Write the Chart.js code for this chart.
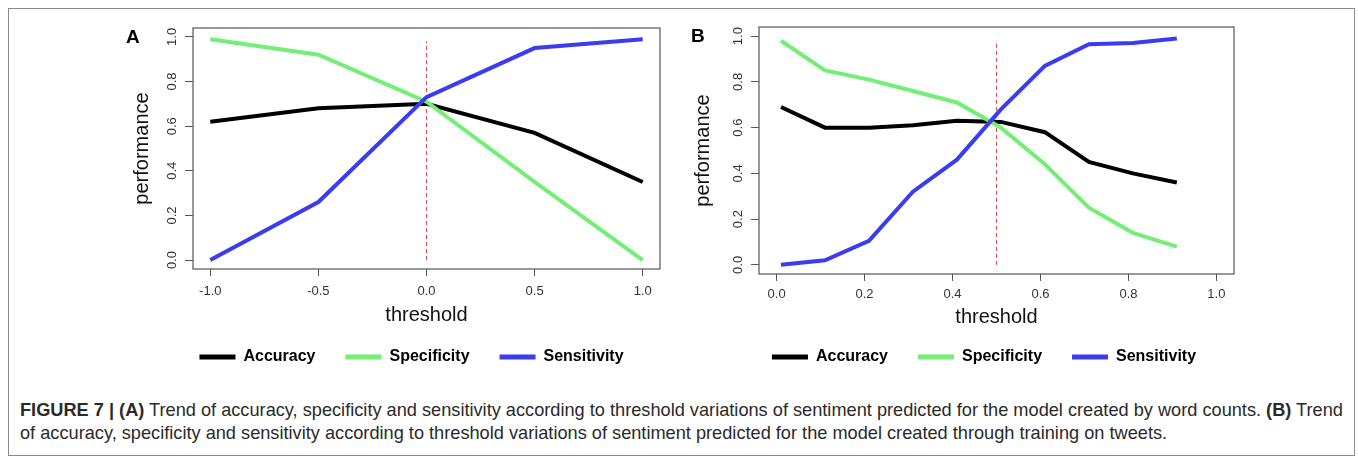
<!DOCTYPE html>
<html>
<head>
<meta charset="utf-8">
<script src="https://cdn.jsdelivr.net/npm/chart.js@4.4.1/dist/chart.umd.min.js"></script>
<style>
  html, body { margin: 0; padding: 0; background: #fff; }
  body { width: 1358px; height: 457px; position: relative; overflow: hidden; font-family: "Liberation Sans", Arial, sans-serif; }
  #frame { position: absolute; left: 8px; top: 8px; width: 1347px; height: 448px; border: 1.5px solid #8a8a8a; box-sizing: border-box; }
  .panel { position: absolute; top: 0; }
  .tag { position: absolute; font-weight: bold; font-size: 19px; line-height: 22px; color: #000; }
  #caption { position: absolute; left: 20px; top: 399px; font-size: 18.2px; line-height: 23px; color: #2a2a2a; white-space: nowrap; }
</style>
</head>
<body>
<div id="frame"></div>
<canvas id="chartA" class="panel" style="left:0px" width="823" height="369"></canvas>
<canvas id="chartB" class="panel" style="left:680px" width="608" height="369"></canvas>
<div class="tag" style="left:126px; top:26px;">A</div>
<div class="tag" style="left:691px; top:25px;">B</div>
<div id="caption"><b>FIGURE 7 | (A)</b> Trend of accuracy, specificity and sensitivity according to threshold variations of sentiment predicted for the model created by word counts. <b>(B)</b> Trend<br>of accuracy, specificity and sensitivity according to threshold variations of sentiment predicted for the model created through training on tweets.</div>

<script>
// panel A - word counts model
var xA = [-1.0, -0.5, 0.0, 0.5, 1.0];
var accA = [0.62, 0.68, 0.70, 0.57, 0.35];
var speA = [0.99, 0.92, 0.71, 0.35, 0.00];
var senA = [0.00, 0.26, 0.73, 0.95, 0.99];
var xTicksA = [-1.0, -0.5, 0.0, 0.5, 1.0];
var cutA = 0.0;

// panel B - tweet-trained model
var xB = [0.01, 0.11, 0.21, 0.31, 0.41, 0.51, 0.61, 0.71, 0.81, 0.91];
var accB = [0.69, 0.60, 0.60, 0.61, 0.63, 0.625, 0.58, 0.45, 0.40, 0.36];
var speB = [0.98, 0.85, 0.81, 0.76, 0.71, 0.60, 0.44, 0.25, 0.14, 0.08];
var senB = [0.00, 0.02, 0.105, 0.32, 0.46, 0.68, 0.87, 0.965, 0.97, 0.99];
var xTicksB = [0.0, 0.2, 0.4, 0.6, 0.8, 1.0];
var cutB = 0.5;

var yTicks = [0.0, 0.2, 0.4, 0.6, 0.8, 1.0];
var cutY = [0.0, 0.98];
var seriesNames = ['Accuracy', 'Specificity', 'Sensitivity'];
var seriesColors = ['#000000', '#74ee74', '#3b3bf0'];

Chart.defaults.font.family = '"Liberation Sans", Arial, sans-serif';

function pts(xs, ys) {
    return xs.map(function(x, i) { return { x: x, y: ys[i] }; });
}

// R-style box round the plot + rotated y tick labels
var boxPlugin = {
    id: 'rbox',
    afterDraw: function(chart) {
        var a = chart.chartArea, ctx = chart.ctx, ys = chart.scales.y;
        ctx.save();
        ctx.strokeStyle = '#555';
        ctx.lineWidth = 1.2;
        ctx.strokeRect(a.left, a.top, a.right - a.left, a.bottom - a.top);
        ctx.fillStyle = '#333';
        ctx.font = '13px "Liberation Sans", Arial, sans-serif';
        ctx.textAlign = 'center';
        ctx.textBaseline = 'middle';
        ys.ticks.forEach(function(t) {
            ctx.save();
            ctx.translate(a.left - 21, ys.getPixelForValue(t.value));
            ctx.rotate(-Math.PI / 2);
            ctx.fillText(t.value.toFixed(1), 0, 0);
            ctx.restore();
        });
        ctx.restore();
    }
};

function drawPanel(id, p) {
    var datasets = seriesNames.map(function(name, i) {
        return {
            label: name,
            data: pts(p.xs, p.series[i]),
            borderColor: seriesColors[i],
            backgroundColor: seriesColors[i],
            borderWidth: 4,
            pointRadius: 0,
            tension: 0,
            order: 3 - i
        };
    });
    datasets.push({
        label: 'cut',
        data: [{ x: p.cut, y: cutY[0] }, { x: p.cut, y: cutY[1] }],
        borderColor: '#e0474a',
        borderWidth: 1,
        borderDash: [4, 3],
        pointRadius: 0,
        order: 5
    });

    new Chart(document.getElementById(id), {
        type: 'line',
        data: { datasets: datasets },
        options: {
            responsive: false,
            animation: false,
            layout: { padding: { top: p.top, left: 0, right: 0, bottom: 0 } },
            plugins: {
                tooltip: { enabled: false },
                legend: {
                    position: 'bottom',
                    maxHeight: 50,
                    labels: {
                        boxWidth: 36,
                        boxHeight: 5,
                        padding: 30,
                        color: '#000',
                        font: { size: 16, weight: 'bold' },
                        filter: function(item) { return item.text !== 'cut'; },
                        sort: function(a, b) { return a.datasetIndex - b.datasetIndex; },
                        generateLabels: function(chart) {
                            return Chart.defaults.plugins.legend.labels.generateLabels(chart).map(function(l) {
                                l.fillStyle = l.strokeStyle;
                                l.lineWidth = 0;
                                return l;
                            });
                        }
                    }
                }
            },
            scales: {
                x: {
                    type: 'linear',
                    min: p.xMin,
                    max: p.xMax,
                    afterBuildTicks: function(s) { s.ticks = p.xTicks.map(function(v) { return { value: v }; }); },
                    afterFit: function(s) { s.height = p.xAxisH; },
                    grid: { drawOnChartArea: false, tickLength: 7, color: '#555' },
                    border: { display: false },
                    ticks: {
                        padding: p.tickPad,
                        color: '#333',
                        font: { size: 13 },
                        maxRotation: 0,
                        callback: function(v) { return v.toFixed(1); }
                    },
                    title: { display: true, text: 'threshold', color: '#111', font: { size: 20 }, padding: { top: 0, bottom: p.titlePadX } }
                },
                y: {
                    type: 'linear',
                    min: -0.04,
                    max: 1.04,
                    afterBuildTicks: function(s) { s.ticks = yTicks.map(function(v) { return { value: v }; }); },
                    afterFit: function(s) { s.width = p.yAxisW; },
                    grid: { drawOnChartArea: false, tickLength: 8, color: '#555' },
                    border: { display: false },
                    ticks: { display: false },
                    title: { display: true, text: 'performance', color: '#111', font: { size: 20 }, padding: { top: p.titlePadY, bottom: 0 } }
                },
                spacer: {
                    type: 'linear',
                    position: 'right',
                    grid: { display: false },
                    border: { display: false },
                    ticks: { display: false },
                    afterFit: function(s) { s.width = p.rightW; }
                }
            }
        },
        plugins: [boxPlugin]
    });
}

drawPanel('chartA', {
    xs: xA, series: [accA, speA, senA], xTicks: xTicksA, cut: cutA,
    xMin: -1.08, xMax: 1.08,
    top: 28, xAxisH: 50, yAxisW: 193, rightW: 163,
    tickPad: 8, titlePadX: -8, titlePadY: 130
});

drawPanel('chartB', {
    xs: xB, series: [accB, speB, senB], xTicks: xTicksB, cut: cutB,
    xMin: -0.04, xMax: 1.04,
    top: 27, xAxisH: 45, yAxisW: 79, rightW: 54,
    tickPad: 6, titlePadX: -10, titlePadY: 11
});
</script>
</body>
</html>
